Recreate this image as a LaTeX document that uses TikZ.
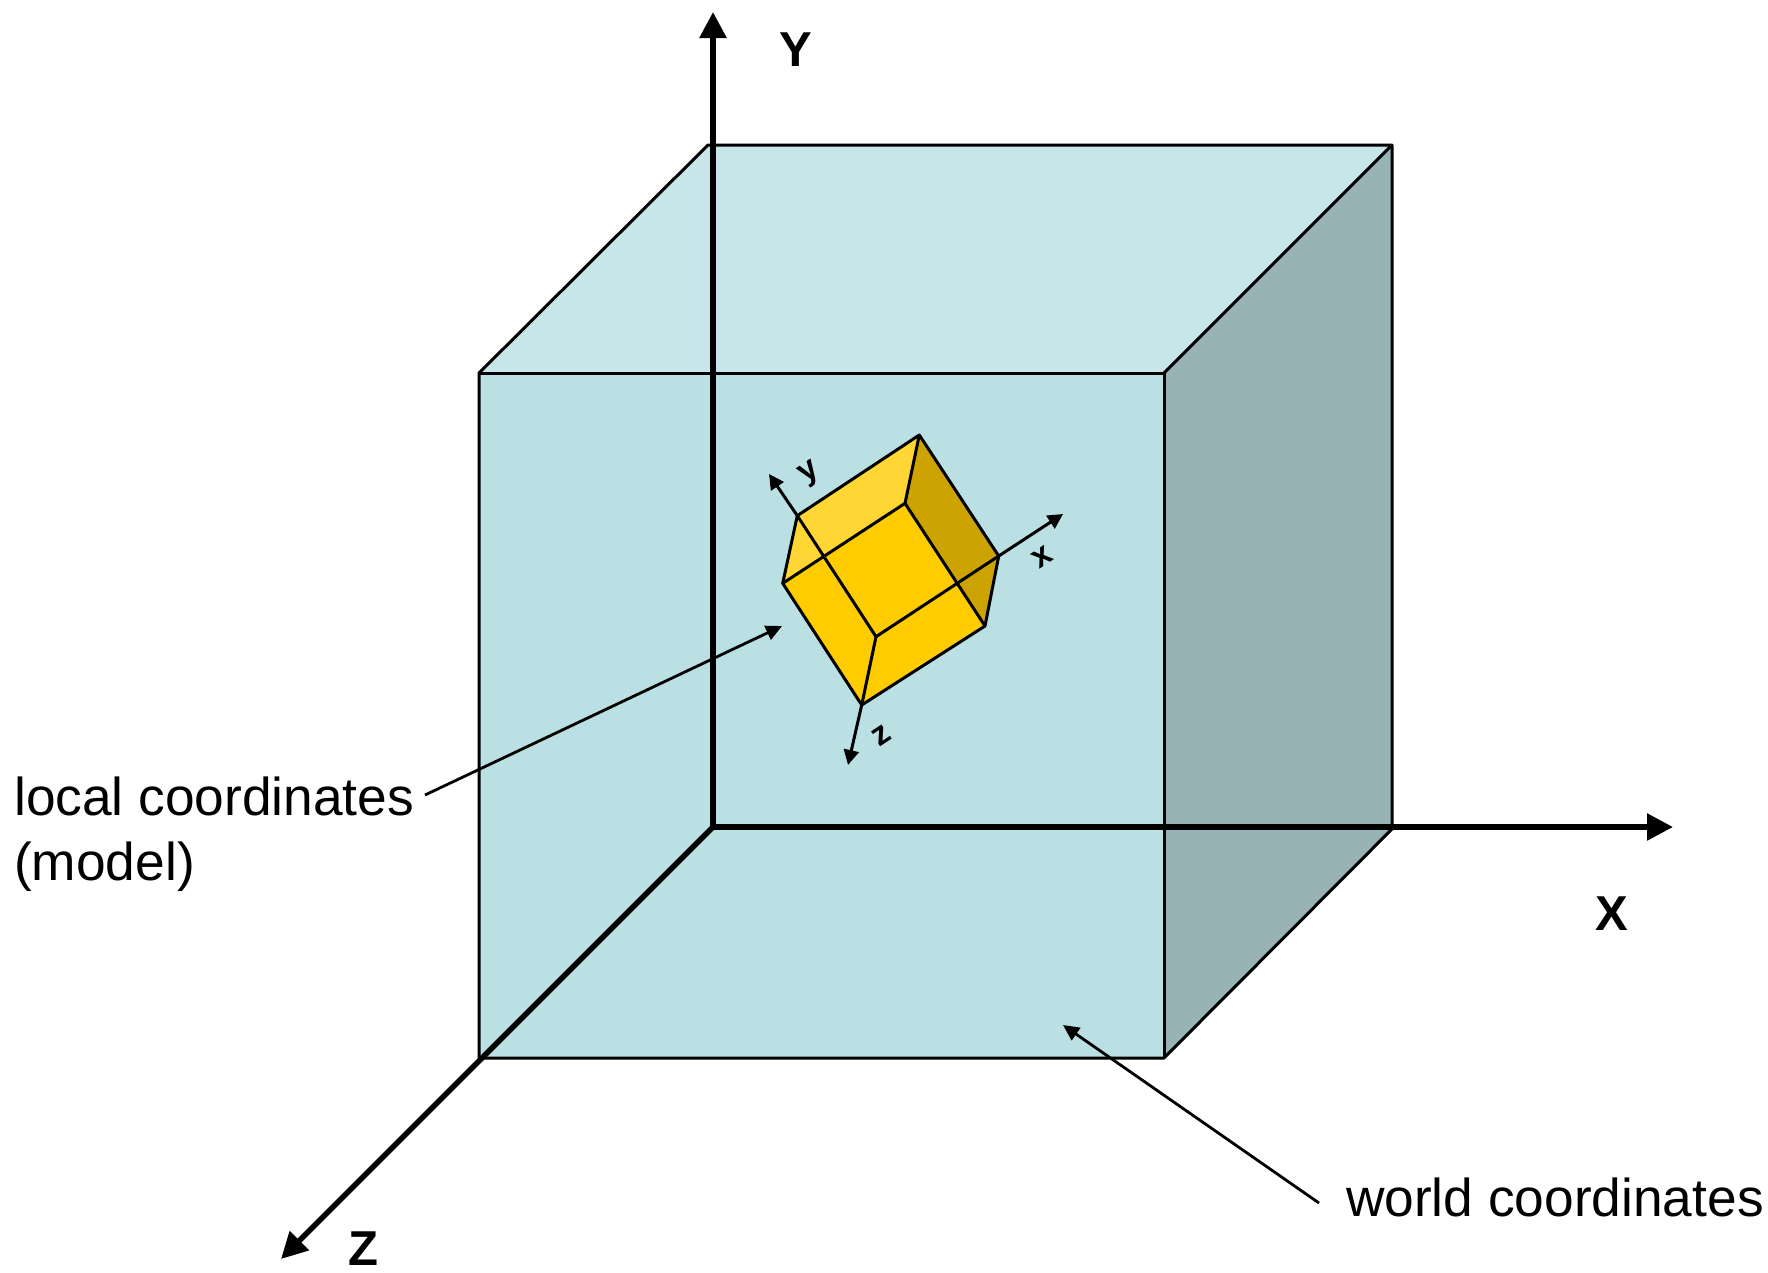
\documentclass[tikz,border=0pt]{standalone}
\usepackage{fontspec}
\setmainfont{Liberation Sans}
\usetikzlibrary{arrows.meta}
\definecolor{frontc}{HTML}{BAE0E4}
\definecolor{topc}{HTML}{C8E6E9}
\definecolor{sidec}{HTML}{97B3B5}
\definecolor{goldc}{HTML}{FFCC00}
\definecolor{goldl}{HTML}{FFD633}
\definecolor{goldd}{HTML}{CCA300}
\tikzset{
  x=1pt,y=-1pt,
  face/.style={draw=black,line width=3pt,line join=round},
  edge/.style={draw=black,line width=3pt,line join=round},
  axis/.style={draw=black,line width=5.6pt,-{Triangle[length=26pt,width=26pt]}},
  smallaxis/.style={draw=black,line width=3pt,-{Triangle[length=15pt,width=15pt]}},
  leader/.style={draw=black,line width=2.8pt,-{Triangle[length=16pt,width=15pt]}},
  biglabel/.style={font=\fontsize{49}{49}\selectfont\bfseries,inner sep=0pt},
  smalllabel/.style={font=\fontsize{33}{33}\selectfont\bfseries,inner sep=0pt,rotate=33.6},
  note/.style={font=\fontsize{53.3}{65}\selectfont,inner sep=0pt,align=left},
}
\begin{document}
\begin{tikzpicture}
\useasboundingbox (0,0) rectangle (1768,1272);
% big cube
\coordinate (ftl) at (479,373);
\coordinate (ftr) at (1164,373);
\coordinate (fbr) at (1164,1058);
\coordinate (fbl) at (479,1058);
\coordinate (btl) at (708,145);
\coordinate (btr) at (1392,145);
\coordinate (bbr) at (1392,829);
\coordinate (orig) at (713,827);
\coordinate (ytip) at (713,12);
\coordinate (xtip) at (1673,827);
\coordinate (ztip) at (281,1259);
\fill[topc] (ftl) -- (btl) -- (btr) -- (ftr) -- cycle;
\fill[sidec] (ftr) -- (btr) -- (bbr) -- (fbr) -- cycle;
\fill[frontc] (ftl) -- (ftr) -- (fbr) -- (fbl) -- cycle;
\draw[face] (fbl) -- (ftl) -- (btl) -- (btr) -- (bbr) -- (fbr) -- cycle;
\draw[face] (ftl) -- (ftr) -- (fbr);
\draw[face] (ftr) -- (btr);
% world axes
\draw[axis] (orig) -- (ytip);
\draw[axis] (orig) -- (xtip);
\draw[axis] (orig) -- (ztip);
\node[biglabel] (ylab) at (796,50) {Y};
\node[biglabel] (xlab) at (1612,914) {X};
\node[biglabel] (zlab) at (363,1249) {Z};
% small cube
\coordinate (t) at (919.3,435);
\coordinate (lt) at (797.3,515.7);
\coordinate (l) at (782.7,583.3);
\coordinate (b) at (861.7,705);
\coordinate (rb) at (985,626);
\coordinate (r) at (998.7,556);
\coordinate (it) at (905,503.3);
\coordinate (ib) at (876,636.7);
\fill[goldc] (l) -- (it) -- (rb) -- (b) -- cycle;
\fill[goldl] (lt) -- (t) -- (it) -- (l) -- cycle;
\fill[goldd] (t) -- (r) -- (rb) -- (it) -- cycle;
\draw[edge] (lt) -- (t) -- (r) -- (rb) -- (b) -- (l) -- cycle;
\draw[edge] (l) -- (it) -- (rb);
\draw[edge] (t) -- (it);
\draw[edge] (lt) -- (ib) -- (r);
\draw[edge] (ib) -- (b);
% local axes
\coordinate (ly) at (769,474);
\coordinate (lx) at (1063,514);
\coordinate (lz) at (848,765);
\draw[smallaxis] (lt) -- (ly);
\draw[smallaxis] (r) -- (lx);
\draw[smallaxis] (b) -- (lz);
\node[smalllabel] (ylocal) at (810,474) {y};
\node[smalllabel] (xlocal) at (1042,557) {x};
\node[smalllabel] (zlocal) at (882,736) {z};
% notes
\node[note,anchor=north west] (local) at (14,777) {local coordinates\\(model)};
\node[note,anchor=north east] (world) at (1764,1178) {world coordinates};
\coordinate (lstart) at (425,795);
\coordinate (ltip) at (782,626);
\coordinate (wstart) at (1319,1203);
\coordinate (wtip) at (1063,1025);
\draw[leader] (lstart) -- (ltip);
\draw[leader] (wstart) -- (wtip);
\end{tikzpicture}
\end{document}
